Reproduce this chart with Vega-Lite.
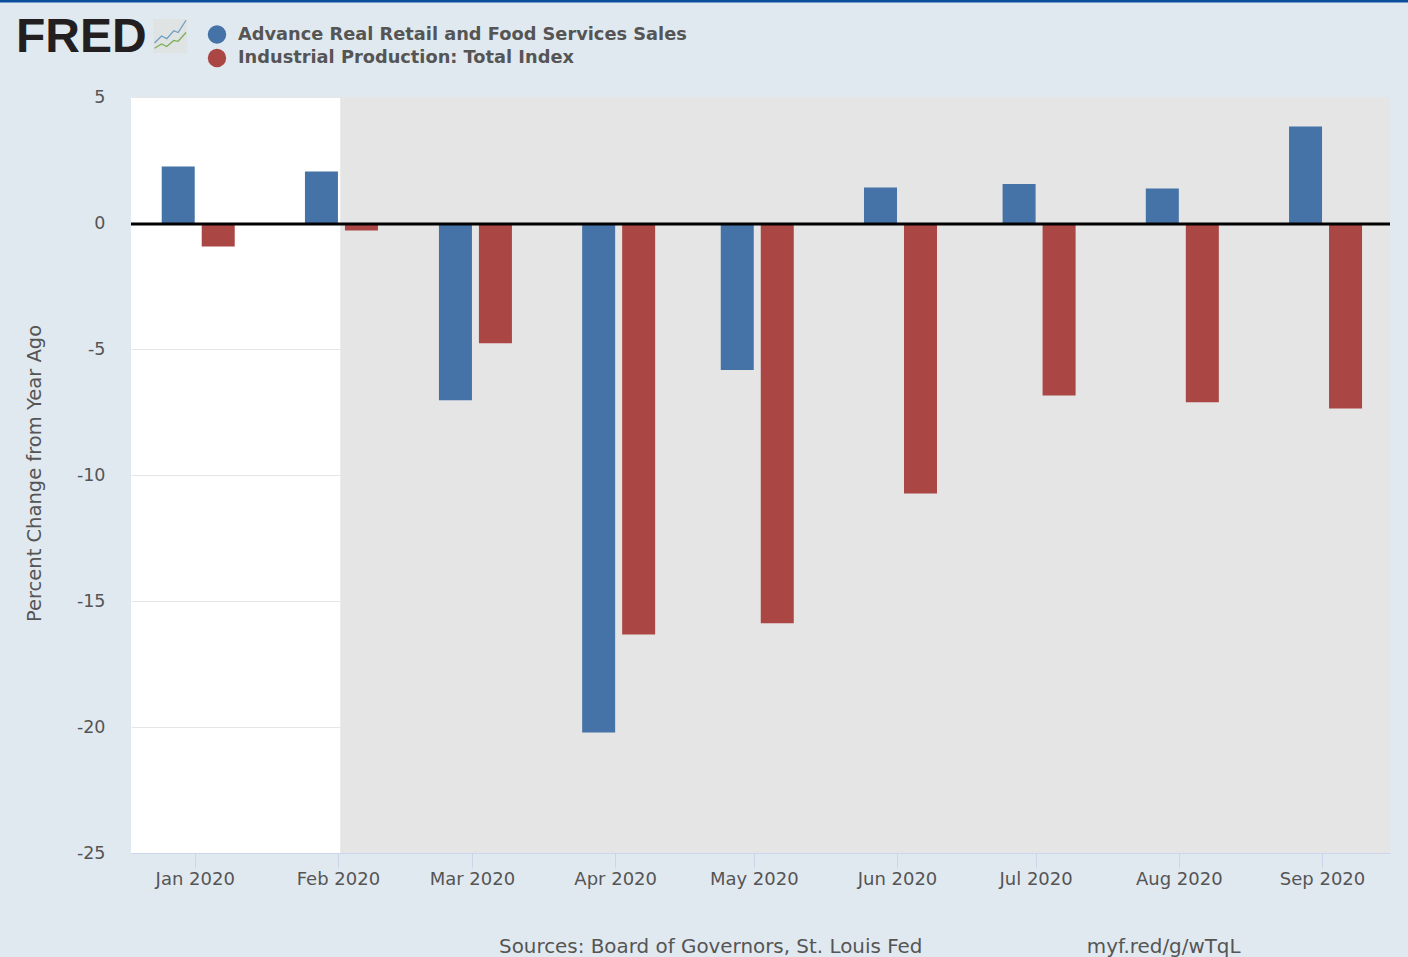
{"$schema":"https://vega.github.io/schema/vega-lite/v6.json","width":1259,"height":756,"autosize":"none","padding":{"left":131,"top":97,"right":18,"bottom":104},"background":"#e1e9f0","title":{"text":"FRED","orient":"top","anchor":"start","frame":"group","dx":-115,"offset":0,"dy":101,"baseline":"alphabetic","font":"Liberation Sans","fontSize":48,"fontWeight":"bold","color":"#231f20"},"config":{"view":{"stroke":null,"fill":"#ffffff"},"font":"DejaVu Sans"},"datasets":{"obs":[{"date":"2020-01-01","series":"Advance Real Retail and Food Services Sales","value":2.24},{"date":"2020-02-01","series":"Advance Real Retail and Food Services Sales","value":2.04},{"date":"2020-03-01","series":"Advance Real Retail and Food Services Sales","value":-7.03},{"date":"2020-04-01","series":"Advance Real Retail and Food Services Sales","value":-20.22},{"date":"2020-05-01","series":"Advance Real Retail and Food Services Sales","value":-5.83},{"date":"2020-06-01","series":"Advance Real Retail and Food Services Sales","value":1.41},{"date":"2020-07-01","series":"Advance Real Retail and Food Services Sales","value":1.55},{"date":"2020-08-01","series":"Advance Real Retail and Food Services Sales","value":1.37},{"date":"2020-09-01","series":"Advance Real Retail and Food Services Sales","value":3.83},{"date":"2020-01-01","series":"Industrial Production: Total Index","value":-0.93},{"date":"2020-02-01","series":"Industrial Production: Total Index","value":-0.3},{"date":"2020-03-01","series":"Industrial Production: Total Index","value":-4.77},{"date":"2020-04-01","series":"Industrial Production: Total Index","value":-16.33},{"date":"2020-05-01","series":"Industrial Production: Total Index","value":-15.88},{"date":"2020-06-01","series":"Industrial Production: Total Index","value":-10.73},{"date":"2020-07-01","series":"Industrial Production: Total Index","value":-6.85},{"date":"2020-08-01","series":"Industrial Production: Total Index","value":-7.11},{"date":"2020-09-01","series":"Industrial Production: Total Index","value":-7.36}]},"layer":[{"data":{"values":[{"y":-25}]},"mark":{"type":"rule","opacity":0},"encoding":{"y":{"field":"y","type":"quantitative","scale":{"domain":[-25,5],"nice":false,"zero":false},"axis":{"values":[-25,-20,-15,-10,-5,0,5],"labelExpr":"'' + datum.value","grid":true,"gridColor":"#e6e6e6","domain":false,"ticks":false,"labelFontSize":17.5,"labelColor":"#555555","labelPadding":26,"title":"Percent Change from Year Ago","titleFontSize":19.5,"titleFontWeight":"normal","titleColor":"#555555","titleX":-87,"titleY":376}}}},{"data":{"values":[{"start":"2020-02-01T12:00:00Z","end":"2020-10-01T00:00:00Z"}]},"mark":{"type":"rect","color":"#e5e5e5","clip":true},"encoding":{"x":{"field":"start","type":"temporal","scale":{"type":"utc","padding":0,"domain":["2019-12-18T05:00:00Z","2020-09-15T17:00:00Z"]},"axis":{"tickCount":{"interval":"month","step":1},"labelExpr":"utcFormat(datum.value, '%b %Y')","grid":false,"domainColor":"#ccd6eb","tickColor":"#ccd6eb","tickSize":15,"labelFontSize":18,"labelColor":"#555555","labelPadding":2,"labelOverlap":false,"labelFlush":false,"title":"Sources: Board of Governors, St. Louis Fed\u00a0\u00a0\u00a0\u00a0\u00a0\u00a0\u00a0\u00a0\u00a0\u00a0\u00a0\u00a0\u00a0\u00a0\u00a0\u00a0\u00a0\u00a0\u00a0\u00a0\u00a0\u00a0\u00a0\u00a0\u00a0\u00a0myf.red/g/wTqL","titleFontSize":19.9,"titleFontWeight":"normal","titleColor":"#555555","titleAlign":"left","titleAnchor":"start","titleBaseline":"alphabetic","titleX":367.5,"titleY":99}},"x2":{"field":"end"}}},{"data":{"name":"obs"},"transform":[{"filter":"datum.series === 'Advance Real Retail and Food Services Sales'"}],"mark":{"type":"bar","size":33,"xOffset":-16.5},"encoding":{"x":{"field":"date","type":"temporal"},"y":{"field":"value","type":"quantitative"},"color":{"field":"series","type":"nominal","scale":{"domain":["Advance Real Retail and Food Services Sales","Industrial Production: Total Index"],"range":["#4572a7","#aa4643"]},"legend":{"orient":"none","legendX":76,"legendY":-72.5,"title":null,"symbolType":"circle","symbolSize":340,"symbolOpacity":1,"labelFontSize":17.8,"labelFontWeight":"bold","labelColor":"#555555","labelLimit":700,"labelOffset":11,"rowPadding":3.5}}}},{"data":{"name":"obs"},"transform":[{"filter":"datum.series === 'Industrial Production: Total Index'"}],"mark":{"type":"bar","size":33,"xOffset":23.5},"encoding":{"x":{"field":"date","type":"temporal"},"y":{"field":"value","type":"quantitative"},"color":{"field":"series","type":"nominal"}}},{"data":{"values":[{"y":0}]},"mark":{"type":"rule","color":"#000000","strokeWidth":3,"yOffset":1},"encoding":{"y":{"field":"y","type":"quantitative"}}},{"data":{"values":[{"start":"2019-11-19T00:00:00Z","end":"2020-09-21T00:00:00Z","y":8.81}]},"mark":{"type":"rule","color":"#0b4f9c","strokeWidth":3,"clip":false},"encoding":{"x":{"field":"start","type":"temporal"},"x2":{"field":"end"},"y":{"field":"y","type":"quantitative"}}},{"data":{"values":[{"x":"2019-12-26T17:00:00Z","y":7.42}]},"mark":{"type":"point","shape":"square","filled":true,"size":1156,"color":"#dfe3e3","opacity":1,"clip":false},"encoding":{"x":{"field":"x","type":"temporal"},"y":{"field":"y","type":"quantitative"}}},{"data":{"values":[{"x":"2019-12-26T17:00:00Z","y":7.42,"line":"a"},{"x":"2019-12-26T17:00:00Z","y":7.42,"line":"b"}]},"mark":{"type":"point","filled":false,"size":1225,"opacity":1,"strokeWidth":1.3,"clip":false},"encoding":{"x":{"field":"x","type":"temporal"},"y":{"field":"y","type":"quantitative"},"shape":{"field":"line","type":"nominal","scale":{"domain":["a","b"],"range":["M-0.9,0.4L-0.5,0L-0.2,0.15L0.2,-0.3L0.45,-0.2L0.9,-0.9","M-0.9,0.7L-0.5,0.45L-0.2,0.6L0.2,0.25L0.45,0.3L0.9,-0.2"]},"legend":null},"stroke":{"field":"line","type":"nominal","scale":{"domain":["a","b"],"range":["#6f9ec4","#7fae5a"]},"legend":null}}}]}
